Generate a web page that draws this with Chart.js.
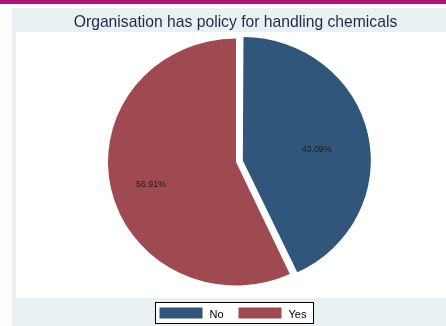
<!DOCTYPE html>
<html>
<head>
<meta charset="utf-8">
<script src="https://cdn.jsdelivr.net/npm/chart.js@4"></script>
<style>
  html, body { margin: 0; padding: 0; background: #fff; }
  #wrap { width: 446px; height: 326px; }
</style>
</head>
<body>
<div id="wrap"><canvas id="pieChart" width="446" height="326"></canvas></div>
<script>
const chartTitle = "Organisation has policy for handling chemicals";
const categories = ["No", "Yes"];
const shares = [43.09, 56.91];
const sliceColors = ["#30577b", "#9f4a50"];
// Chart.js v4 moves an arc by offset / 4 pixels
const explode = [28, 0];

const FONT = "'Liberation Sans', Arial, Helvetica, sans-serif";
// the reference pie is slightly wider than tall
const squashY = 0.965;
const labelRadius = [0.59, 0.68];

// Stata-like frame: magenta strip, graph region, white plot region
const framePlugin = {
  id: "stataFrame",
  beforeDraw(chart) {
    const { ctx, width, height } = chart;
    ctx.save();
    ctx.fillStyle = "#ffffff";
    ctx.fillRect(0, 0, width, height);
    ctx.fillStyle = "#b1137b";
    ctx.fillRect(0, 0, width, 4);
    ctx.fillStyle = "#eaf1f3";
    ctx.fillRect(12, 8, width - 12, height - 8);
    ctx.fillStyle = "#ffffff";
    ctx.fillRect(16, 32, width - 16, 266);
    ctx.restore();
  },
  afterDraw(chart) {
    const { ctx } = chart;
    ctx.save();
    // title
    ctx.fillStyle = "#1e2b47";
    ctx.font = "15.7px " + FONT;
    ctx.textAlign = "center";
    ctx.textBaseline = "alphabetic";
    ctx.fillText(chartTitle, 235.5, 27);

    // legend
    ctx.fillStyle = "#ffffff";
    ctx.fillRect(155.5, 302.5, 158, 21);
    ctx.strokeStyle = "#000000";
    ctx.lineWidth = 1;
    ctx.strokeRect(155.5, 302.5, 158, 21);
    const items = chart.data.labels;
    const colors = chart.data.datasets[0].backgroundColor;
    ctx.font = "11px " + FONT;
    ctx.textAlign = "left";
    items.forEach((label, i) => {
      const x = 159.5 + i * 79;
      ctx.fillStyle = colors[i];
      ctx.fillRect(x, 307.5, 43, 11);
      ctx.fillStyle = "#000000";
      ctx.fillText(label, x + 50, 318);
    });
    ctx.restore();
  }
};

const piePlugin = {
  id: "stataPie",
  afterDatasetUpdate(chart, args) {
    // Chart.js grows an exploded arc by offset * fix; Stata does not
    const dataset = chart.data.datasets[args.index];
    args.meta.data.forEach((arc, i) => {
      const off = (dataset.offset[i] || 0) / 4;
      const fix = 1 - Math.sin(Math.min(Math.PI, arc.circumference || 0));
      arc.outerRadius -= off * fix;
    });
  },
  beforeDatasetsDraw(chart) {
    const { ctx } = chart;
    const cy = chart.getDatasetMeta(0).data[0].y;
    ctx.save();
    ctx.translate(0, cy);
    ctx.scale(1, squashY);
    ctx.translate(0, -cy);
  },
  afterDatasetsDraw(chart) {
    const { ctx } = chart;
    ctx.restore();

    const meta = chart.getDatasetMeta(0);
    const dataset = chart.data.datasets[0];
    ctx.save();
    ctx.fillStyle = "#1a1a1a";
    ctx.font = "8.8px " + FONT;
    ctx.textAlign = "center";
    ctx.textBaseline = "top";
    meta.data.forEach((arc, i) => {
      const { x, y, startAngle, endAngle } =
        arc.getProps(["x", "y", "startAngle", "endAngle"], true);
      const mid = (startAngle + endAngle) / 2;
      const dist = (dataset.offset[i] || 0) / 4 + chart.options.radius * labelRadius[i];
      ctx.fillText(shares[i].toFixed(2) + "%",
        x + Math.cos(mid) * dist,
        y + Math.sin(mid) * dist * squashY);
    });
    ctx.restore();
  }
};

new Chart(document.getElementById("pieChart"), {
  type: "pie",
  data: {
    labels: categories,
    datasets: [{
      data: shares,
      backgroundColor: sliceColors,
      borderWidth: 0,
      offset: explode
    }]
  },
  options: {
    responsive: false,
    animation: false,
    radius: 128,
    layout: {
      padding: { left: 108, right: 82, top: 34, bottom: 36 }
    },
    plugins: {
      legend: { display: false },
      title: { display: false },
      tooltip: { enabled: false }
    }
  },
  plugins: [framePlugin, piePlugin]
});
</script>
</body>
</html>
